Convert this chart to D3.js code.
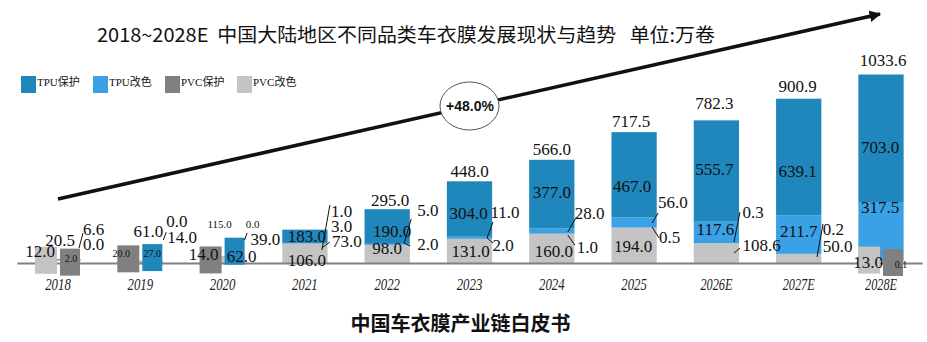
<!DOCTYPE html>
<html><head><meta charset="utf-8">
<script src="https://cdn.jsdelivr.net/npm/d3@7"></script>
<style>
html,body{margin:0;padding:0;background:#fff;}
svg{display:block;}
</style></head><body>
<svg id="chart" width="927" height="342"></svg>
<script>
// ---------------- data ----------------
const years      = ['2018','2019','2020','2021','2022','2023','2024','2025','2026E','2027E','2028E'];
const tpuProtect = [6.6, 27.0, 62.0, 73.0, 190.0, 304.0, 377.0, 467.0, 555.7, 639.1, 703.0];
const tpuColor   = [0.0, 0.0, 0.0, 3.0, 5.0, 11.0, 28.0, 56.0, 117.6, 211.7, 317.5];
const pvcProtect = [2.0, 20.0, 14.0, 1.0, 2.0, 2.0, 1.0, 0.5, 0.3, 0.2, 0.1];
const pvcColor   = [12.0, 14.0, 39.0, 106.0, 98.0, 131.0, 160.0, 194.0, 108.6, 50.0, 13.0];
const totals     = [20.5, 61.0, 115.0, 183.0, 295.0, 448.0, 566.0, 717.5, 782.3, 900.9, 1033.6];
const seriesNames = ['TPU保护','TPU改色','PVC保护','PVC改色'];
const cagrLabel = '+48.0%';
const titleText = '2018~2028E  中国大陆地区不同品类车衣膜发展现状与趋势   单位:万卷';
const sourceText = '中国车衣膜产业链白皮书';

// ---------------- styling / layout ----------------
const values = {tpuP: tpuProtect, tpuC: tpuColor, pvcP: pvcProtect, pvcC: pvcColor, total: totals};
const colors = {tpuP:'#1f87bb', tpuC:'#3aa1e6', pvcP:'#808080', pvcC:'#c4c4c4'};
const legendKeys = ['tpuP','tpuC','pvcP','pvcC'];
const stackKeys = ['pvcC','pvcP','tpuC','tpuP'];
// years whose small segments are shown as side-by-side inset blocks
const blockSpec = {0:['pvcC','pvcP'], 1:['pvcP','tpuP'], 2:['pvcP','tpuP'], 10:['pvcC','pvcP']};
// label placement: [yearIdx, key, dx from bar centre, dy from baseline, anchor, size]
const labelSpec = [
 [0,'pvcC',-18,-6,'m',17],[0,'pvcP',13,-1,'m',10],[0,'total',2,-17,'m',17],[0,'tpuP',25,-28,'s',17],[0,'tpuC',25,-13,'s',17],
 [1,'pvcP',-19,-6,'m',10],[1,'tpuP',12,-6,'m',10],[1,'total',8,-26,'m',17],[1,'tpuC',26,-36,'s',17],[1,'pvcC',27,-20,'s',17],
 [2,'pvcP',-19,-3,'m',17],[2,'tpuP',19,-1,'m',17],[2,'total',-3,-35,'m',11],[2,'tpuC',30,-35,'m',11],[2,'pvcC',28,-18,'s',17],
 [3,'total',2,-21,'m',17],[3,'pvcC',2,3,'m',17],[3,'pvcP',26,-46,'s',17],[3,'tpuC',26,-31,'s',17],[3,'tpuP',27,-16,'s',17],
 [4,'total',3,-57,'m',17],[4,'tpuP',5,-26,'m',17],[4,'pvcC',0,-9,'m',17],[4,'tpuC',30,-47,'s',17],[4,'pvcP',30,-13,'s',17],
 [5,'total',0,-86,'m',17],[5,'tpuP',-1,-44,'m',17],[5,'pvcC',1,-6,'m',17],[5,'tpuC',21,-45,'s',17],[5,'pvcP',23,-12,'s',17],
 [6,'total',0,-108,'m',17],[6,'tpuP',0,-65,'m',17],[6,'pvcC',2,-6,'m',17],[6,'tpuC',23,-44,'s',17],[6,'pvcP',25,-10,'s',17],
 [7,'total',-3,-136,'m',17],[7,'tpuP',-2,-71,'m',17],[7,'pvcC',-1,-11,'m',17],[7,'tpuC',24,-55,'s',17],[7,'pvcP',25,-20,'s',17],
 [8,'total',-2,-154,'m',17],[8,'tpuP',-2,-88,'m',17],[8,'tpuC',-1,-28,'m',17],[8,'pvcP',26,-45,'s',17],[8,'pvcC',26,-12,'s',17],
 [9,'total',-1,-171,'m',17],[9,'tpuP',-1,-86,'m',17],[9,'tpuC',0,-26,'m',17],[9,'pvcP',24,-28,'s',17],[9,'pvcC',24,-11,'s',17],
 [10,'total',2,-197,'m',17],[10,'tpuP',-1,-110,'m',17],[10,'tpuC',-1,-50,'m',17],[10,'pvcC',-13,5,'m',17],[10,'pvcP',20,5,'m',10]
];
// leader lines: [yearIdx, dx1, dy1, dx2, dy2]
const leaderSpec = [
 [0,21,-15,25,-30],[1,23,-23,26,-31],[2,22,-23,24.5,-30],
 [3,25,-58,17,-13],[3,17,-15,25,-21],
 [4,24,-44,17,-20],[4,17,-20,23,-17],
 [5,23.5,-41,17.5,-25],[5,17.5,-25,23.5,-20],
 [6,24,-45,16,-31],[6,16,-28,23,-18],
 [7,24,-50,18,-40],[7,18,-36,25,-25],
 [8,23.6,-51,17.6,-21],[8,17.6,-10,23.6,-15],
 [9,24.3,-39,18.3,-6]
];

const svg = d3.select('#chart');
const x = d3.scaleBand().domain(years).range([16.85, 922.15]).paddingInner(0.45).paddingOuter(0.225);
const y = d3.scaleLinear().domain([0, 1100]).range([263, 62.4]);
const y0 = y(0);
const cx = i => x(years[i]) + x.bandwidth()/2;
const fmt = d3.format('.1f');
const serif = "'Liberation Serif','Times New Roman',serif";
const cjk = "'Noto Sans CJK SC','Noto Sans',sans-serif";

// title
svg.append('text').attr('x',97).attr('y',42)
  .attr('font-family',cjk).attr('font-size',19).attr('fill','#111')
  .attr('textLength',618).attr('lengthAdjust','spacingAndGlyphs')
  .attr('xml:space','preserve').style('white-space','pre')
  .text(titleText);

// legend
const lg = svg.append('g').selectAll('g').data(legendKeys).join('g')
  .attr('transform',(d,k)=>`translate(${21+72*k},76)`);
lg.append('rect').attr('width',15).attr('height',17).attr('fill',d=>colors[d]);
lg.append('text').attr('x',16).attr('y',10).attr('font-size',11)
  .attr('font-family',`${serif.split(',')[0]},${cjk}`).attr('fill','#111')
  .text((d,k)=>seriesNames[k]);

// stacked bars
const table = years.map((yr,i)=>({year:yr, i, pvcC:pvcColor[i], pvcP:pvcProtect[i], tpuC:tpuColor[i], tpuP:tpuProtect[i]}));
const stacked = d3.stack().keys(stackKeys)(table);
const barG = svg.append('g');
stacked.forEach(layer=>{
  barG.selectAll(null).data(layer.filter(d=>!(blockSpec[d.data.i]||[]).includes(layer.key)))
    .join('rect')
    .attr('x',d=>x(d.data.year)).attr('width',x.bandwidth())
    .attr('y',d=>y(d[1])).attr('height',d=>Math.max(0,y(d[0])-y(d[1])))
    .attr('fill',colors[layer.key]);
});

// axis
const axG = svg.append('g').attr('transform',`translate(0,${y0})`)
  .call(d3.axisBottom(x).tickSize(0).tickSizeOuter(0));
axG.select('.domain').attr('stroke','#808080').attr('stroke-width',2);
axG.selectAll('text').attr('y',27).attr('dy',0)
  .attr('font-family',serif).attr('font-style','italic').attr('font-size',16).attr('fill','#222')
  .attr('textLength',d=>d.length*6.4).attr('lengthAdjust','spacingAndGlyphs');

// inset blocks
const blocks = [];
Object.entries(blockSpec).forEach(([i,keys])=>{
  i=+i;
  keys.forEach((k,j)=>blocks.push({i,k,j,v:values[k][i]}));
});
svg.append('g').selectAll('rect').data(blocks).join('rect')
  .attr('x',d=>d.j===0 ? cx(d.i)-23 : cx(d.i)+2)
  .attr('width',d=>d.j===0 ? 22 : 20)
  .attr('y',d=>y(d.v)-14).attr('height',27)
  .attr('fill',d=>colors[d.k]);

// leader lines
svg.append('g').selectAll('line').data(leaderSpec).join('line')
  .attr('x1',d=>cx(d[0])+d[1]).attr('y1',d=>y0+d[2])
  .attr('x2',d=>cx(d[0])+d[3]).attr('y2',d=>y0+d[4])
  .attr('stroke','#111').attr('stroke-width',1);

// value labels
svg.append('g').selectAll('text').data(labelSpec).join('text')
  .attr('x',d=>cx(d[0])+d[2]).attr('y',d=>y0+d[3])
  .attr('text-anchor',d=>d[4]==='m'?'middle':'start')
  .attr('font-family',serif).attr('font-size',d=>d[5]).attr('fill','#111')
  .text(d=>fmt(values[d[1]][d[0]]));

// growth arrow
svg.append('defs').append('marker').attr('id','ah')
  .attr('viewBox','0 0 10 10').attr('refX',9).attr('refY',5)
  .attr('markerWidth',3.2).attr('markerHeight',3.2).attr('orient','auto')
  .append('path').attr('d','M0,0L10,5L0,10z').attr('fill','#111');
svg.append('line').attr('x1',58).attr('y1',199).attr('x2',880).attr('y2',14)
  .attr('stroke','#111').attr('stroke-width',3.6).attr('marker-end','url(#ah)');
svg.append('ellipse').attr('cx',469.5).attr('cy',106).attr('rx',29.5).attr('ry',24)
  .attr('fill','#fff').attr('stroke','#555').attr('stroke-width',1);
svg.append('text').attr('x',470).attr('y',111).attr('text-anchor','middle')
  .attr('font-family',"'Liberation Sans',Arial,sans-serif").attr('font-weight','bold')
  .attr('font-size',14).attr('fill','#111').text(cagrLabel);

// source caption
svg.append('text').attr('x',460.5).attr('y',331).attr('text-anchor','middle')
  .attr('font-family',cjk).attr('font-weight','bold').attr('font-size',20).attr('fill','#111')
  .text(sourceText);
</script>
</body></html>
